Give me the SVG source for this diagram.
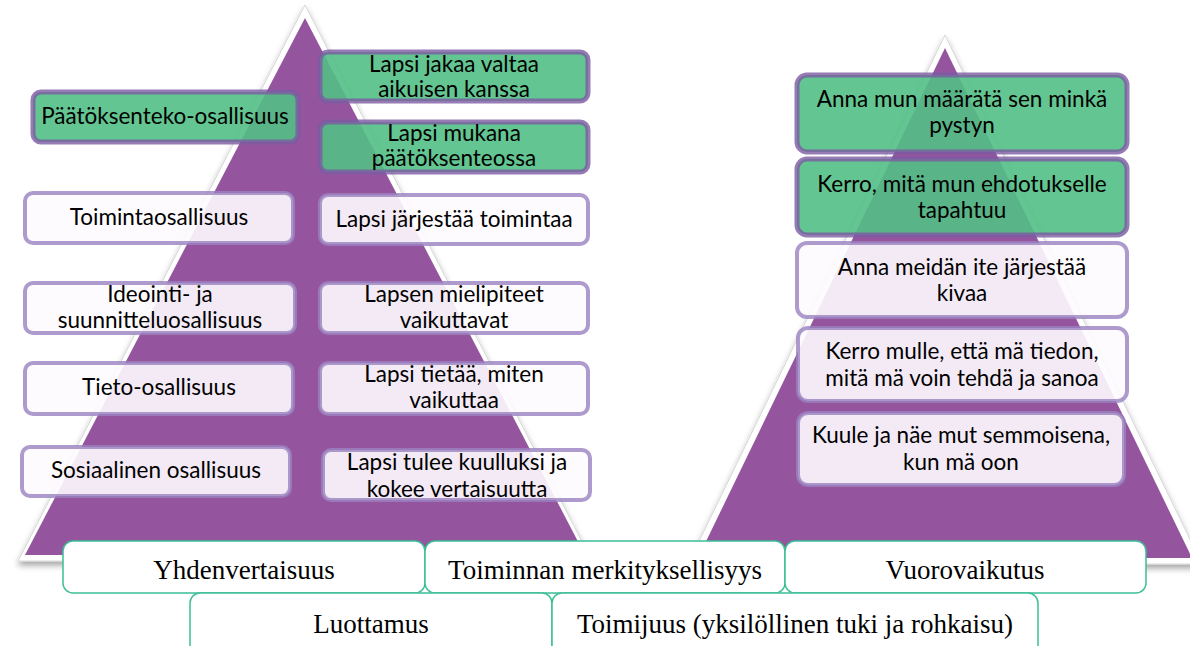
<svg xmlns="http://www.w3.org/2000/svg" width="1190" height="646" viewBox="0 0 1190 646">
<defs>
<filter id="sh" x="-10%" y="-10%" width="120%" height="125%">
<feDropShadow dx="0" dy="4" stdDeviation="3" flood-color="#000" flood-opacity="0.35"/>
</filter>
</defs>
<style>
.tri-out{fill:#fff;stroke:#d6d6d6;stroke-width:1;filter:url(#sh)}
.tri{fill:#94559e}
.g{fill:#52bf85;fill-opacity:0.9;stroke:#7c5aa3;stroke-opacity:0.8;stroke-width:5}
.w{fill:#fdfbfe;fill-opacity:0.9;stroke:#9a82c0;stroke-opacity:0.8;stroke-width:4}
.b{fill:#fff;stroke:#3dbe96;stroke-width:1.5}
.t{font-family:Lato,"Open Sans",sans-serif;font-size:22.5px;fill:#000;text-anchor:middle}
.s{font-family:"Liberation Serif","Times New Roman",serif;font-size:27px;fill:#000;text-anchor:middle}
</style>
<g id="pyramid-left">
<polygon class="tri-out" points="305,5 18,561 592,561"/>
<polygon class="tri" points="305,18 25,555 585,555"/>
</g>
<g id="pyramid-right">
<polygon class="tri-out" points="945,35 688,564 1202,564"/>
<polygon class="tri" points="945,48 698,558 1192,558"/>
</g>
<g id="n-paatoksenteko">
<rect class="g" x="33" y="92" width="265" height="50" rx="8"/>
<text class="t" x="165" y="124">Päätöksenteko-osallisuus</text>
</g>
<g id="n-jakaa">
<rect class="g" x="320" y="52" width="268" height="49" rx="8"/>
<text class="t" x="454" y="72">Lapsi jakaa valtaa</text>
<text class="t" x="454" y="97">aikuisen kanssa</text>
</g>
<g id="n-mukana">
<rect class="g" x="320" y="122" width="268" height="50" rx="8"/>
<text class="t" x="454" y="141">Lapsi mukana</text>
<text class="t" x="454" y="166">päätöksenteossa</text>
</g>
<g id="n-toiminta">
<rect class="w" x="25" y="193" width="268" height="50" rx="8"/>
<text class="t" x="159" y="225">Toimintaosallisuus</text>
</g>
<g id="n-jarjestaa">
<rect class="w" x="320" y="195" width="268" height="49" rx="8"/>
<text class="t" x="454" y="227">Lapsi järjestää toimintaa</text>
</g>
<g id="n-ideointi">
<rect class="w" x="25" y="283" width="270" height="50" rx="8"/>
<text class="t" x="160" y="302">Ideointi- ja</text>
<text class="t" x="160" y="328">suunnitteluosallisuus</text>
</g>
<g id="n-mielipiteet">
<rect class="w" x="320" y="283" width="268" height="50" rx="8"/>
<text class="t" x="454" y="302">Lapsen mielipiteet</text>
<text class="t" x="454" y="328">vaikuttavat</text>
</g>
<g id="n-tieto">
<rect class="w" x="25" y="363" width="268" height="51" rx="8"/>
<text class="t" x="159" y="395">Tieto-osallisuus</text>
</g>
<g id="n-tietaa">
<rect class="w" x="320" y="363" width="268" height="51" rx="8"/>
<text class="t" x="454" y="382">Lapsi tietää, miten</text>
<text class="t" x="454" y="408">vaikuttaa</text>
</g>
<g id="n-sosiaalinen">
<rect class="w" x="22" y="447" width="268" height="49" rx="8"/>
<text class="t" x="156" y="478">Sosiaalinen osallisuus</text>
</g>
<g id="n-kuulluksi">
<rect class="w" x="323" y="450" width="267" height="50" rx="8"/>
<text class="t" x="457" y="470">Lapsi tulee kuulluksi ja</text>
<text class="t" x="457" y="497">kokee vertaisuutta</text>
</g>
<g id="n-maarata">
<rect class="g" x="797" y="75" width="330" height="77" rx="10"/>
<text class="t" x="962" y="107">Anna mun määrätä sen minkä</text>
<text class="t" x="962" y="133">pystyn</text>
</g>
<g id="n-ehdotukselle">
<rect class="g" x="797" y="159" width="330" height="76" rx="10"/>
<text class="t" x="962" y="192">Kerro, mitä mun ehdotukselle</text>
<text class="t" x="962" y="218">tapahtuu</text>
</g>
<g id="n-kivaa">
<rect class="w" x="797" y="243" width="330" height="74" rx="10"/>
<text class="t" x="962" y="275">Anna meidän ite järjestää</text>
<text class="t" x="962" y="301">kivaa</text>
</g>
<g id="n-tiedon">
<rect class="w" x="798" y="328" width="329" height="73" rx="10"/>
<text class="t" x="962" y="359">Kerro mulle, että mä tiedon,</text>
<text class="t" x="962" y="386">mitä mä voin tehdä ja sanoa</text>
</g>
<g id="n-kuule">
<rect class="w" x="798" y="413" width="326" height="72" rx="10"/>
<text class="t" x="961" y="443">Kuule ja näe mut semmoisena,</text>
<text class="t" x="961" y="470">kun mä oon</text>
</g>
<g id="n-yhdenvertaisuus">
<rect class="b" x="63" y="541" width="362" height="52" rx="10"/>
<text class="s" x="244" y="579">Yhdenvertaisuus</text>
</g>
<g id="n-merkityksellisyys">
<rect class="b" x="425" y="541" width="360" height="52" rx="10"/>
<text class="s" x="605" y="579">Toiminnan merkityksellisyys</text>
</g>
<g id="n-vuorovaikutus">
<rect class="b" x="785" y="541" width="361" height="52" rx="10"/>
<text class="s" x="965" y="579">Vuorovaikutus</text>
</g>
<g id="n-luottamus">
<rect class="b" x="190" y="593" width="362" height="62" rx="10"/>
<text class="s" x="371" y="633">Luottamus</text>
</g>
<g id="n-toimijuus">
<rect class="b" x="552" y="593" width="486" height="62" rx="10"/>
<text class="s" x="795" y="633">Toimijuus (yksilöllinen tuki ja rohkaisu)</text>
</g>
</svg>
